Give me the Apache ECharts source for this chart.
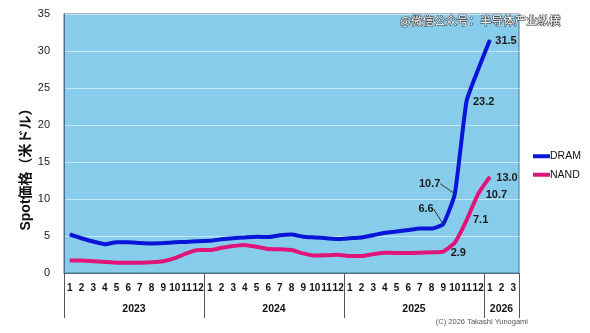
<!DOCTYPE html>
<html>
<head>
<meta charset="utf-8">
<script src="https://cdn.jsdelivr.net/npm/echarts@6/dist/echarts.min.js"></script>
<style>
  html, body { margin: 0; padding: 0; background: #fff; }
  #chart { width: 590px; height: 333px; }
</style>
</head>
<body>
<div id="chart"></div>
<script>
// Monthly spot prices (USD), Jan 2023 – Mar 2026
const years = ['2023', '2024', '2025', '2026'];
const monthsPerYear = [12, 12, 12, 3];
const monthLabels = [
  '1','2','3','4','5','6','7','8','9','10','11','12',
  '1','2','3','4','5','6','7','8','9','10','11','12',
  '1','2','3','4','5','6','7','8','9','10','11','12',
  '1','2','3'
];
const dram = [
  5.2, 4.7, 4.25, 3.9, 4.15, 4.15, 4.05, 4.0, 4.05, 4.15, 4.2, 4.3,
  4.35, 4.55, 4.7, 4.8, 4.9, 4.85, 5.1, 5.2, 4.9, 4.8, 4.7, 4.6,
  4.7, 4.8, 5.1, 5.45, 5.6, 5.8, 6.0, 6.0, 6.6, 10.7, 23.2, 27.5,
  31.5, null, null
];
const nand = [
  1.7, 1.7, 1.6, 1.5, 1.4, 1.4, 1.4, 1.45, 1.6, 2.0, 2.65, 3.1,
  3.1, 3.4, 3.65, 3.8, 3.55, 3.25, 3.2, 3.1, 2.65, 2.35, 2.4, 2.45,
  2.3, 2.3, 2.55, 2.75, 2.7, 2.7, 2.75, 2.8, 2.9, 4.1, 7.1, 10.7,
  13.0, null, null
];
// Months whose value is printed next to the line
const dramLabelled = [32, 33, 34, 36];
const nandLabelled = [32, 34, 35, 36];

const FONT = '"Liberation Sans", Arial, "Noto Sans CJK JP", sans-serif';

// label placement per labelled point: [position, dx, dy, leader line]
const dramLabelPlace = {
  32: ['left', -4, -15, true],
  33: ['left', -9, -10, true],
  34: ['right', 1, 1, false],
  36: ['right', 0, 1, false]
};
const nandLabelPlace = {
  32: ['right', 2, 1, false],
  34: ['right', 1, 0, false],
  35: ['right', 2, 1, false],
  36: ['right', 1, 1, false]
};

function buildData(values, labelled, place) {
  return values.map((v, i) => {
    if (labelled.indexOf(i) < 0) return v;
    const p = place[i];
    return {
      value: v,
      label: {
        show: true,
        position: p[0],
        distance: 5,
        formatter: (d) => Number(d.value).toFixed(1)
      },
      labelLine: { show: p[3], lineStyle: { color: '#333', width: 1 } }
    };
  });
}

// Year band boundaries and centres on a 0..N month scale
const yearEdges = [0];
monthsPerYear.forEach((n, i) => yearEdges.push(yearEdges[i] + n));
const yearCentres = years.map((y, i) => (yearEdges[i] + yearEdges[i + 1]) / 2);
const totalMonths = yearEdges[yearEdges.length - 1];

function lineSeries(name, values, labelled, place, color, z) {
  return {
    name: name,
    type: 'line',
    data: buildData(values, labelled, place),
    smooth: 0.15,
    symbol: 'circle',
    symbolSize: 1,
    showSymbol: true,
    connectNulls: false,
    lineStyle: { color: color, width: 4 },
    itemStyle: { color: color },
    label: { show: false, color: '#1a1a1a', fontSize: 11, fontWeight: 'bold' },
    labelLayout: (p) => {
      const pl = place[p.dataIndex];
      return pl ? { dx: pl[1], dy: pl[2] } : {};
    },
    z: z
  };
}

const chart = echarts.init(document.getElementById('chart'));
chart.setOption({
  animation: false,
  textStyle: { fontFamily: FONT },
  title: {
    text: '@微信公众号：半导体产业纵横',
    left: 395,
    top: 10,
    textStyle: {
      fontSize: 11.5,
      fontWeight: 'normal',
      color: '#ffffff',
      textBorderColor: '#333',
      textBorderWidth: 1,
      fontFamily: '"Noto Sans CJK SC", ' + FONT
    }
  },
  graphic: [{
    type: 'text',
    right: 62,
    top: 318,
    style: {
      text: '(C) 2026 Takashi Yunogami',
      fontSize: 7.5,
      fill: '#555',
      fontFamily: FONT
    }
  }],
  legend: {
    orient: 'vertical',
    left: 528,
    top: 146,
    itemWidth: 17,
    itemHeight: 4,
    itemGap: 8,
    icon: 'rect',
    textStyle: { fontSize: 10.5, color: '#111', padding: [0, 0, 0, -5] },
    data: ['DRAM', 'NAND']
  },
  grid: {
    left: 64,
    right: 71,
    top: 14,
    bottom: 60,
    show: true,
    backgroundColor: '#87cdeb',
    borderColor: '#4f6f8a',
    borderWidth: 1
  },
  xAxis: [{
    type: 'category',
    data: monthLabels,
    boundaryGap: true,
    axisLine: { show: true, lineStyle: { color: '#4f6f8a' } },
    axisTick: { show: false },
    axisLabel: {
      interval: 0,
      hideOverlap: false,
      fontSize: 10,
      fontWeight: 'bold',
      color: '#111',
      margin: 10
    }
  }, {
    type: 'value',
    min: 0,
    max: totalMonths,
    position: 'bottom',
    axisLine: { show: false },
    splitLine: { show: false },
    axisTick: {
      show: true,
      customValues: yearEdges,
      length: 45,
      lineStyle: { color: '#555', width: 1 }
    },
    axisLabel: {
      customValues: yearCentres,
      formatter: (v) => years[yearCentres.indexOf(v)] || '',
      fontSize: 10.5,
      fontWeight: 'bold',
      color: '#111',
      margin: 31
    }
  }],
  yAxis: {
    type: 'value',
    min: 0,
    max: 35,
    interval: 5,
    name: 'Spot価格（米ドル）',
    nameLocation: 'middle',
    nameGap: 31,
    nameMoveOverlap: false,
    nameTextStyle: {
      fontSize: 14,
      fontWeight: 'bold',
      color: '#111',
      padding: [0, 45, 0, 0],
      fontFamily: FONT
    },
    axisLine: { show: true, lineStyle: { color: '#4f6f8a' } },
    axisTick: { show: false },
    axisLabel: { fontSize: 11, color: '#222', margin: 14 },
    splitLine: { lineStyle: { color: '#c4e6f6', width: 1 } }
  },
  series: [
    lineSeries('DRAM', dram, dramLabelled, dramLabelPlace, '#0a14d8', 3),
    lineSeries('NAND', nand, nandLabelled, nandLabelPlace, '#e0157a', 2)
  ]
});
</script>
</body>
</html>
